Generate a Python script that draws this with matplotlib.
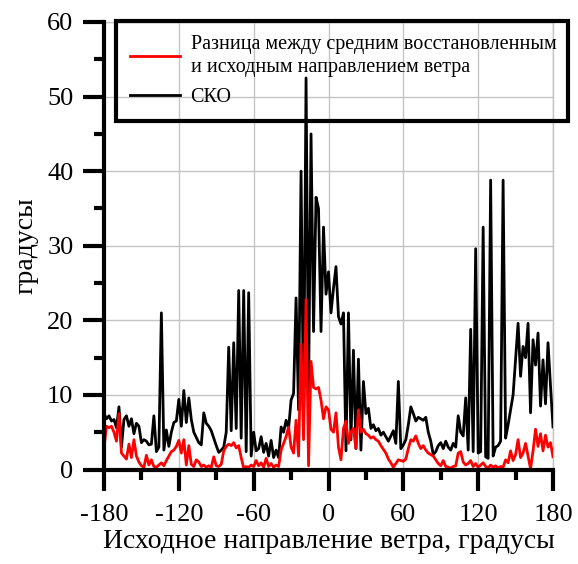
import numpy as np
import matplotlib
matplotlib.use("Agg")
from matplotlib import pyplot as plt
from matplotlib.ticker import MultipleLocator

# source wind direction, degrees (step 2)
direction = np.arange(-180, 181, 2)

# СКО (std), degrees
sko = [
    7.5, 6.8, 7.2, 6.5, 6.7, 5.6, 8.4, 3.0, 6.7, 7.2,        # -180..-162
    5.8, 6.8, 4.8, 6.2, 5.8, 3.6, 4.0, 3.8, 3.3, 3.4,        # -160..-142
    7.2, 2.4, 3.0, 21.0, 2.6, 5.3, 3.1, 5.0, 6.3, 6.5,       # -140..-122
    9.4, 5.8, 10.6, 6.3, 9.6, 6.7, 5.0, 4.3, 3.6, 3.3,       # -120..-102
    7.6, 6.2, 5.8, 5.2, 4.2, 3.2, 2.3, 2.6, 3.0, 5.0,        # -100..-82
    16.4, 5.2, 17.0, 5.5, 24.0, 4.2, 24.0, 2.4, 23.7, 1.8,   # -80..-62
    5.0, 2.5, 2.8, 4.4, 2.3, 3.5, 1.8, 3.9, 1.6, 2.6,        # -60..-42
    1.6, 5.7, 5.0, 6.6, 5.5, 9.3, 10.2, 23.0, 8.0, 40.0,     # -40..-22
    6.0, 52.5, 10.0, 45.0, 18.5, 36.5, 35.0, 18.5, 32.5, 23.5,  # -20..-2
    26.5, 21.0, 24.3, 27.2, 20.5, 19.5, 21.0, 2.5, 21.0, 4.0,   # 0..18
    16.0, 2.8, 14.8, 2.6, 11.8, 7.5, 8.2, 5.5, 6.0, 5.2,     # 20..38
    5.5, 4.6, 5.0, 4.4, 3.8, 4.5, 5.2, 3.5, 11.8, 2.8,       # 40..58
    3.3, 4.0, 6.0, 8.4, 7.5, 6.5, 7.0, 6.8, 6.6, 7.0,        # 60..78
    5.0, 3.8, 2.0, 2.4, 3.2, 3.6, 2.8, 3.8, 3.0, 2.6,        # 80..98
    3.5, 3.0, 7.2, 5.0, 4.5, 9.6, 2.6, 18.8, 2.4, 29.6,      # 100..118
    2.2, 2.4, 32.5, 1.7, 1.5, 38.8, 1.8, 3.0, 3.2, 3.8,      # 120..138
    38.8, 4.2, 6.0, 8.0, 10.0, 14.7, 19.6, 12.5, 16.5, 15.0, # 140..158
    19.6, 7.6, 17.4, 14.0, 18.3, 8.5, 14.7, 8.8, 17.0, 11.2, # 160..178
    5.7,                                                      # 180
]

# difference between mean restored and source direction, degrees
diff = [
    2.9, 5.8, 5.6, 5.8, 5.0, 3.8, 7.5, 2.2, 1.8, 1.4,
    3.4, 1.6, 4.0, 1.8, 1.0, 0.5, 0.3, 1.9, 0.6, 1.3,
    0.4, 0.3, 0.6, 0.9, 0.5, 1.2, 1.8, 2.4, 2.6, 3.1,
    3.9, 2.2, 4.0, 0.6, 3.2, 0.7, 0.4, 1.3, 1.0, 0.4,
    0.6, 0.3, 0.5, 0.3, 1.7, 0.5, 0.4, 0.7, 2.5, 3.1,
    3.4, 3.2, 3.6, 2.9, 3.2, 1.6, 0.2, 0.4, 0.3, 0.6,
    0.4, 1.2, 0.5, 0.9, 0.3, 1.5, 0.4, 0.8, 0.3, 0.6,
    0.4, 2.6, 3.5, 4.4, 5.7, 3.0, 2.2, 6.6, 1.8, 16.8,
    4.0, 22.8, 0.5, 14.5, 11.0, 10.8, 11.0, 9.3, 6.8, 8.4,
    8.0, 5.4, 5.0, 7.6, 3.0, 1.3, 5.5, 6.5, 3.5, 5.0,
    5.5, 2.8, 8.0, 5.0, 5.4, 4.8, 4.6, 4.2, 4.4, 4.0,
    3.8, 3.2, 2.7, 2.2, 1.4, 0.9, 0.3, 0.8, 1.3, 1.2,
    1.1, 1.4, 2.8, 4.0, 3.8, 4.5, 3.5, 2.8, 3.2, 2.6,
    2.2, 2.0, 1.8, 1.3, 0.8, 0.5, 1.2, 0.4, 0.3, 0.2,
    0.4, 0.5, 2.2, 2.4, 1.0, 0.6, 0.8, 1.2, 0.4, 0.8,
    0.3, 0.6, 0.9, 0.4, 0.2, 0.6, 0.3, 0.5, 0.2, 0.4,
    0.3, 1.3, 0.9, 2.5, 1.2, 2.0, 4.0, 1.6, 2.2, 3.5,
    1.8, 0.1, 2.5, 5.4, 3.1, 4.8, 2.5, 4.6, 3.0, 3.6,
    1.7,
]

label_diff = "Разница между средним восстановленным\nи исходным направлением ветра"
label_sko = "СКО"

plt.rcParams["font.family"] = ["Liberation Serif", "DejaVu Serif"]
plt.rcParams["axes.unicode_minus"] = False

fig = plt.figure(figsize=(5.78, 5.64), dpi=100)
ax = fig.add_axes([104 / 578, 1 - 469.5 / 564, 449 / 578, 447.5 / 564])

l_sko, = ax.plot(direction, sko, color="black", lw=2.0, zorder=3)
l_diff, = ax.plot(direction, diff, color="#ff0000", lw=2.0, zorder=4)

ax.set_xlim(-180, 180)
ax.set_ylim(0, 60)
ax.xaxis.set_major_locator(MultipleLocator(60))
ax.xaxis.set_minor_locator(MultipleLocator(30))
ax.yaxis.set_major_locator(MultipleLocator(10))
ax.yaxis.set_minor_locator(MultipleLocator(5))

ax.grid(True, which="major", color="#c4c4c4", lw=1.0, zorder=0)
for side in ["top", "right"]:
    ax.spines[side].set_color("#c4c4c4")
    ax.spines[side].set_linewidth(1.0)
for side in ["left", "bottom"]:
    ax.spines[side].set_linewidth(3.0)
    ax.spines[side].set_zorder(5)

ax.tick_params(which="major", direction="out", length=15, width=3, labelsize=19)
ax.tick_params(which="minor", direction="out", length=7.5, width=3)
ax.tick_params(axis="x", which="major", pad=10)
ax.tick_params(axis="y", which="major", pad=7)
ax.tick_params(top=False, right=False, which="both")

ax.set_xlabel("Исходное направление ветра, градусы", fontsize=20, labelpad=2)
ax.set_ylabel("градусы", fontsize=20, labelpad=6)

# legend box: top edge ~21 px from the top, spans x 116..568 px
leg_top = 1 - 21 / 564
leg_h = 0.2
leg = fig.legend([l_diff, l_sko], [label_diff, label_sko],
                 loc="upper left",
                 bbox_to_anchor=(116 / 578, leg_top - leg_h, 452 / 578, leg_h),
                 mode="expand", borderaxespad=0, fontsize=14.5,
                 handlelength=2.5, handletextpad=0.5, borderpad=0.7,
                 labelspacing=0.55, fancybox=False)
frame = leg.get_frame()
frame.set_facecolor("none")
frame.set_alpha(None)
frame.set_edgecolor("black")
frame.set_linewidth(3.0)
for t in leg.get_texts():
    t.set_linespacing(1.25)
for h in leg.get_lines():
    h.set_linewidth(2.0)

fig.savefig("out.png", dpi=100)
